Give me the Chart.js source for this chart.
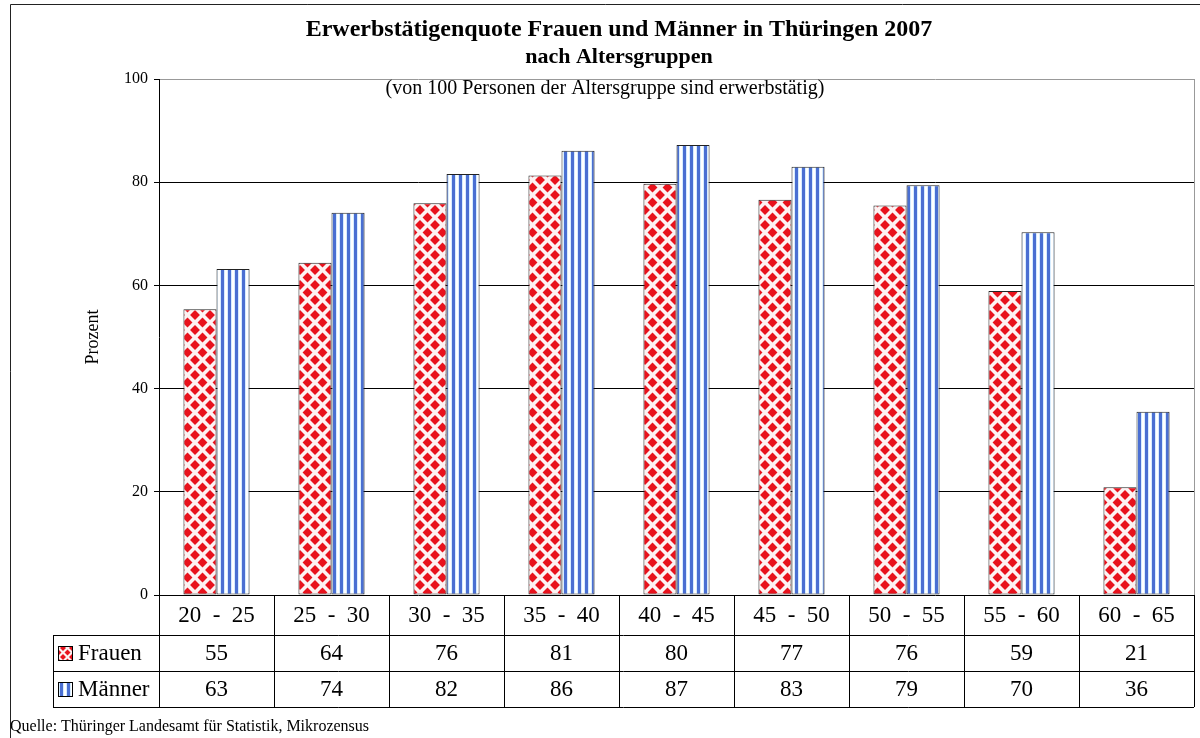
<!DOCTYPE html>
<html>
<head>
<meta charset="utf-8">
<script src="https://cdn.jsdelivr.net/npm/chart.js@4.4.0/dist/chart.umd.min.js"></script>
<style>
  body { margin: 0; background: #fff; }
</style>
</head>
<body>
<canvas id="quote" width="1200" height="738"></canvas>
<script>
var categories = ['20  -  25', '25  -  30', '30  -  35', '35  -  40', '40  -  45', '45  -  50', '50  -  55', '55  -  60', '60  -  65']
var frauen = [55.4, 64.4, 75.9, 81.3, 79.7, 76.6, 75.5, 58.9, 20.9]
var maenner = [63.2, 74.1, 81.6, 86.1, 87.2, 83.0, 79.4, 70.3, 35.5]
var yTicks = [0, 20, 40, 60, 80, 100]

var serif = "'Liberation Serif', 'DejaVu Serif', serif"
var ctx = document.getElementById('quote').getContext('2d')

function diamondPattern(size, share) {
    var c = document.createElement('canvas')
    c.width = size; c.height = size
    var g = c.getContext('2d')
    g.fillStyle = '#fdf2f2'
    g.fillRect(0, 0, size, size)
    g.fillStyle = '#e8121c'
    var r = size * share
    var d = function (x, y) {
        g.beginPath()
        g.moveTo(x, y - r); g.lineTo(x + r, y); g.lineTo(x, y + r); g.lineTo(x - r, y)
        g.closePath(); g.fill()
    }
    d(size / 2, size / 2); d(0, 0); d(size, 0); d(0, size); d(size, size)
    return ctx.createPattern(c, 'repeat')
}

function stripePattern() {
    var c = document.createElement('canvas')
    c.width = 7; c.height = 4
    var g = c.getContext('2d')
    g.fillStyle = '#d6ecff'
    g.fillRect(0, 0, 7, 4)
    g.fillStyle = '#ffffff'
    g.fillRect(1, 0, 2, 4)
    g.fillStyle = '#4a6fd2'
    g.fillRect(4, 0, 3, 4)
    return ctx.createPattern(c, 'repeat')
}

var redPattern = diamondPattern(15, 0.33)
var bluePattern = stripePattern()

var decorations = {
    id: 'decorations',
    afterDraw: function (chart) {
        var c = chart.ctx
        var a = chart.chartArea
        var x = chart.scales.x
        c.save()

        // outer frame (left and top only visible)
        c.strokeStyle = '#222'
        c.lineWidth = 1
        c.beginPath()
        c.moveTo(10.5, 738); c.lineTo(10.5, 4.5); c.lineTo(1200, 4.5)
        c.stroke()

        // right border of plot
        c.strokeStyle = '#999'
        c.beginPath()
        c.moveTo(Math.round(a.right) + 0.5, a.top); c.lineTo(Math.round(a.right) + 0.5, a.bottom)
        c.stroke()

        // titles
        c.fillStyle = '#000'
        c.textAlign = 'center'
        c.textBaseline = 'middle'
        c.font = 'bold 24px ' + serif
        c.fillText('Erwerbstätigenquote Frauen und Männer in Thüringen 2007', 619, 30)
        c.font = 'bold 22px ' + serif
        c.fillText('nach Altersgruppen', 619, 57)
        c.font = '20px ' + serif
        c.fillText('(von 100 Personen der Altersgruppe sind erwerbstätig)', 605, 89)

        // data table
        var colW = (a.right - a.left) / categories.length
        var top = a.bottom, r1 = top + 40, r2 = r1 + 36, r3 = r2 + 36
        var labelLeft = 53
        c.strokeStyle = '#000'
        c.beginPath()
        ;[r1, r2, r3].forEach(function (y) {
            c.moveTo(labelLeft, Math.round(y) + 0.5); c.lineTo(a.right, Math.round(y) + 0.5)
        })
        for (var i = 0; i <= categories.length; i++) {
            var lx = Math.round(a.left + i * colW) + 0.5
            c.moveTo(lx, top); c.lineTo(lx, r3)
        }
        c.moveTo(labelLeft + 0.5, r1); c.lineTo(labelLeft + 0.5, r3)
        c.stroke()

        c.font = '23px ' + serif
        c.textAlign = 'center'
        for (var i = 0; i < categories.length; i++) {
            var cx = x.getPixelForValue(i)
            c.fillText(categories[i], cx, (top + r1) / 2 + 1)
            c.fillText(Math.round(frauen[i]), cx, (r1 + r2) / 2 + 1)
            c.fillText(Math.round(maenner[i]), cx, (r2 + r3) / 2 + 1)
        }

        // legend keys in table
        var keys = [[chart.data.datasets[0], (r1 + r2) / 2, diamondPattern(9, 0.33)], [chart.data.datasets[1], (r2 + r3) / 2, bluePattern]]
        keys.forEach(function (k) {
            var y = Math.round(k[1] - 7)
            c.fillStyle = k[2]
            c.fillRect(58, y, 15, 15)
            c.strokeStyle = '#000'
            c.strokeRect(58.5, y + 0.5, 14, 14)
            c.fillStyle = '#000'
            c.textAlign = 'left'
            c.fillText(k[0].label, 78, k[1] + 1)
        })

        // source
        c.font = '16px ' + serif
        c.textAlign = 'left'
        c.fillText('Quelle: Thüringer Landesamt für Statistik, Mikrozensus', 10, 727)
        c.restore()
    }
}

new Chart(ctx, {
    type: 'bar',
    data: {
        labels: categories,
        datasets: [{
            label: 'Frauen',
            data: frauen,
            backgroundColor: redPattern,
            borderColor: '#222',
            borderWidth: 1,
            borderSkipped: false
        }, {
            label: 'Männer',
            data: maenner,
            backgroundColor: bluePattern,
            borderColor: '#222',
            borderWidth: 1,
            borderSkipped: false
        }]
    },
    options: {
        responsive: false,
        animation: false,
        barPercentage: 1.0,
        categoryPercentage: 0.575,
        layout: { padding: { left: 80, top: 79, right: 6, bottom: 143 } },
        plugins: {
            legend: { display: false },
            title: { display: false },
            tooltip: { enabled: false }
        },
        scales: {
            x: { display: false },
            y: {
                min: 0,
                max: 100,
                afterBuildTicks: function (s) { s.ticks = yTicks.map(function (v) { return { value: v } }) },
                afterFit: function (s) { s.width = 79 },
                ticks: { color: '#000', font: { family: serif, size: 16 }, padding: 6 },
                grid: {
                    color: function (c) { return c.tick && c.tick.value === 100 ? '#999' : '#000' },
                    tickColor: '#000',
                    tickLength: 5
                },
                border: { display: true, color: '#000' },
                title: { display: true, text: 'Prozent', color: '#000', font: { family: serif, size: 18 }, padding: { top: 2, bottom: 4 } }
            }
        }
    },
    plugins: [decorations]
})
</script>
</body>
</html>
